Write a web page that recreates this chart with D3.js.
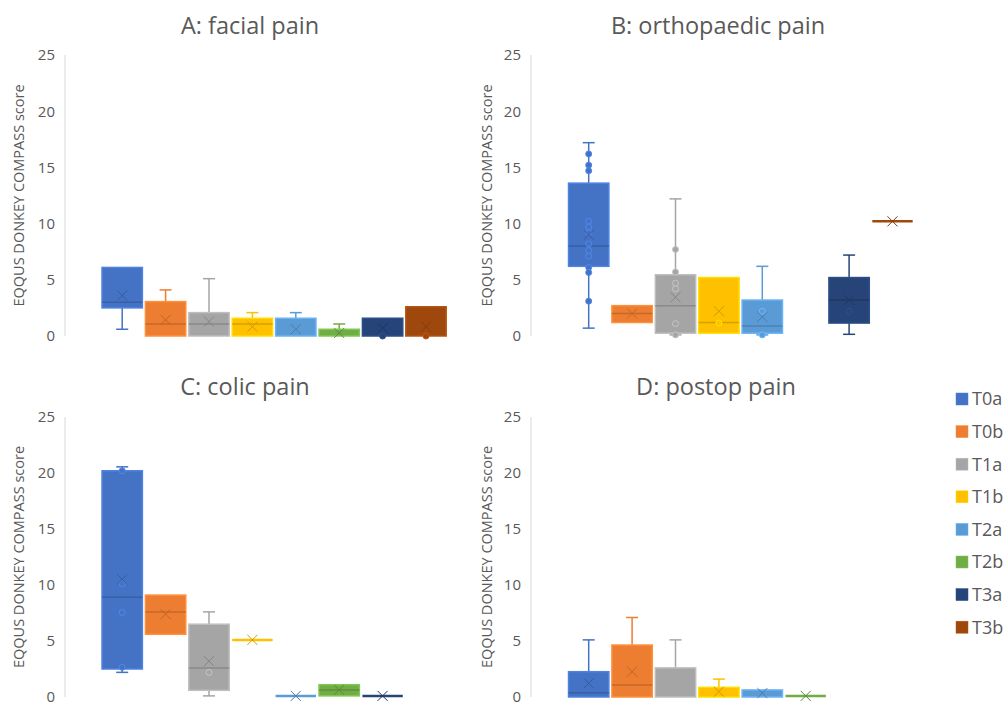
<!DOCTYPE html>
<html>
<head>
<meta charset="utf-8">
<script src="https://cdn.jsdelivr.net/npm/d3@7"></script>
<style>
  body { margin: 0; background: #fff; }
  text { font-family: "Open Sans", sans-serif; fill: #595959; }
</style>
</head>
<body>
<div id="chart"></div>
<script>
const groups = ["T0a", "T0b", "T1a", "T1b", "T2a", "T2b", "T3a", "T3b"];
const colors = ["#4472C4", "#ED7D31", "#A5A5A5", "#FFC000", "#5B9BD5", "#70AD47", "#264478", "#9E480E"];
const yTicks = [0, 5, 10, 15, 20, 25];
const yLabel = "EQQUS DONKEY COMPASS score";

// per group: [min, q1, median, q3, max, mean], null = no data
const facialBox = [
  [0.6, 2.5, 3.0, 6.1, 6.1, 3.6],
  [0, 0, 1.07, 3.06, 4.1, 1.43],
  [0, 0, 1.07, 2.08, 5.1, 1.28],
  [0, 0, 1.07, 1.58, 2.08, 0.83],
  [0, 0, 0, 1.58, 2.08, 0.6],
  [0, 0, 0, 0.6, 1.07, 0.27],
  [0, 0, 0, 1.58, 1.58, 0.7],
  [0, 0, 0, 2.6, 2.6, 0.83]
];
const facialPoints = [[], [], [], [], [], [], [0], [0]];

const orthoBox = [
  [0.7, 6.2, 8.0, 13.6, 17.2, 9.0],
  [1.2, 1.2, 2.0, 2.7, 2.7, 2.0],
  [0.1, 0.25, 2.7, 5.45, 12.2, 3.45],
  [0.25, 0.25, 1.2, 5.2, 5.2, 2.2],
  [0.1, 0.25, 0.9, 3.2, 6.2, 1.7],
  null,
  [0.15, 1.15, 3.2, 5.2, 7.2, 3.2],
  [10.2, 10.2, 10.2, 10.2, 10.2, 10.2]
];
const orthoPoints = [
  [16.2, 15.2, 14.7, 10.2, 9.7, 9.2, 8.2, 7.6, 7.1, 6.1, 5.65, 3.1],
  [],
  [7.7, 5.7, 4.7, 4.2, 1.1, 0.1],
  [1.15],
  [2.2, 0.1],
  [],
  [2.2],
  []
];

const colicBox = [
  [2.2, 2.5, 8.9, 20.2, 20.55, 10.5],
  [5.6, 5.6, 7.6, 9.1, 9.1, 7.4],
  [0.1, 0.6, 2.6, 6.5, 7.6, 3.2],
  [5.1, 5.1, 5.1, 5.1, 5.1, 5.1],
  [0.1, 0.1, 0.1, 0.1, 0.1, 0.1],
  [0.1, 0.1, 0.63, 1.1, 1.1, 0.63],
  [0.1, 0.1, 0.1, 0.1, 0.1, 0.1],
  null
];
const colicPoints = [[20.2, 10.1, 7.55, 2.65], [], [2.2], [], [], [], [], []];

const postopBox = [
  [0, 0, 0.38, 2.26, 5.1, 1.22],
  [0, 0, 1.07, 4.64, 7.1, 2.26],
  [0, 0, 0, 2.6, 5.1, null],
  [0, 0, 0, 0.86, 1.6, 0.48],
  [0, 0, 0, 0.63, 0.63, 0.35],
  [0.1, 0.1, 0.1, 0.1, 0.1, 0.1],
  null,
  null
];
const postopPoints = [[], [], [], [], [], [], [], []];

const panels = [
  {title: "A: facial pain", box: facialBox, pts: facialPoints, axisX: 65, x0: 100.5, yBottom: 336, yTop: 55, titleX: 250, titleY: 34, labelX: 19},
  {title: "B: orthopaedic pain", box: orthoBox, pts: orthoPoints, axisX: 531, x0: 567, yBottom: 336, yTop: 55, titleX: 718, titleY: 34, labelX: 487},
  {title: "C: colic pain", box: colicBox, pts: colicPoints, axisX: 65, x0: 100.5, yBottom: 697, yTop: 417, titleX: 245, titleY: 395, labelX: 19},
  {title: "D: postop pain", box: postopBox, pts: postopPoints, axisX: 531, x0: 567, yBottom: 697, yTop: 417, titleX: 716, titleY: 395, labelX: 487}
];

const svg = d3.select("#chart").append("svg")
  .attr("width", 1006)
  .attr("height", 705);

const cScale = d3.scaleOrdinal().domain(groups).range(colors);

panels.forEach(p => {
  const g = svg.append("g");

  const y = d3.scaleLinear().domain([0, 25]).range([p.yBottom, p.yTop]);
  const x = d3.scaleBand()
    .domain(groups)
    .range([p.x0, p.x0 + groups.length * 43.4])
    .paddingInner(0.07)
    .paddingOuter(0.035);
  const bw = x.bandwidth();

  // title
  g.append("text")
    .attr("x", p.titleX)
    .attr("y", p.titleY)
    .attr("text-anchor", "middle")
    .attr("font-size", 23.5)
    .text(p.title);

  // y axis
  const yAxis = d3.axisLeft(y).tickValues(yTicks).tickSize(0).tickPadding(10);
  const ag = g.append("g")
    .attr("transform", `translate(${p.axisX},0)`)
    .call(yAxis);
  ag.select(".domain").remove();
  ag.selectAll("text")
    .attr("font-size", 15)
    .style("font-family", "'Open Sans', sans-serif")
    .attr("fill", "#595959");

  g.append("line")
    .attr("x1", p.axisX).attr("x2", p.axisX)
    .attr("y1", y(0)).attr("y2", y(25))
    .attr("stroke", "#d9d9d9");

  g.append("text")
    .attr("transform", `translate(${p.labelX},${(y(0) + y(25)) / 2}) rotate(-90)`)
    .attr("text-anchor", "middle")
    .attr("dy", "0.35em")
    .attr("font-size", 14.5)
    .text(yLabel);

  const data = groups.map((k, i) => ({key: k, s: p.box[i], pts: p.pts[i]})).filter(d => d.s);

  const item = g.selectAll(".grp")
    .data(data)
    .join("g")
    .attr("class", "grp");

  // whiskers
  item.each(function(d) {
    const sel = d3.select(this);
    const c = cScale(d.key);
    const cx = x(d.key) + bw / 2;
    const [mn, q1, md, q3, mx] = d.s;
    if (mx > q3) {
      sel.append("line").attr("x1", cx).attr("x2", cx).attr("y1", y(q3)).attr("y2", y(mx))
        .attr("stroke", c).attr("stroke-width", 1.5);
      sel.append("line").attr("x1", cx - 6).attr("x2", cx + 6).attr("y1", y(mx)).attr("y2", y(mx))
        .attr("stroke", c).attr("stroke-width", 1.5);
    }
    if (mn < q1) {
      sel.append("line").attr("x1", cx).attr("x2", cx).attr("y1", y(q1)).attr("y2", y(mn))
        .attr("stroke", c).attr("stroke-width", 1.5);
      sel.append("line").attr("x1", cx - 6).attr("x2", cx + 6).attr("y1", y(mn)).attr("y2", y(mn))
        .attr("stroke", c).attr("stroke-width", 1.5);
    }
  });

  // boxes
  item.filter(d => d.s[3] > d.s[1])
    .append("rect")
    .attr("x", d => x(d.key))
    .attr("width", bw)
    .attr("y", d => y(d.s[3]))
    .attr("height", d => y(d.s[1]) - y(d.s[3]))
    .attr("fill", d => cScale(d.key))
    .attr("stroke", d => d3.color(cScale(d.key)).brighter(0.4))
    .attr("stroke-width", 1.5);

  // single-value groups collapse to a flat line
  item.filter(d => d.s[3] === d.s[1])
    .append("line")
    .attr("x1", d => x(d.key))
    .attr("x2", d => x(d.key) + bw)
    .attr("y1", d => y(d.s[1]))
    .attr("y2", d => y(d.s[1]))
    .attr("stroke", d => cScale(d.key))
    .attr("stroke-width", 2.5);

  // medians
  item.filter(d => d.s[3] > d.s[1] && d.s[2] > d.s[1])
    .append("line")
    .attr("x1", d => x(d.key))
    .attr("x2", d => x(d.key) + bw)
    .attr("y1", d => y(d.s[2]))
    .attr("y2", d => y(d.s[2]))
    .attr("stroke", d => d3.color(cScale(d.key)).darker(0.5))
    .attr("stroke-width", 1.5);

  // inner points
  item.selectAll("circle")
    .data(d => d.pts.map(v => ({key: d.key, v: v})))
    .join("circle")
    .attr("cx", d => x(d.key) + bw / 2)
    .attr("cy", d => y(d.v))
    .attr("r", 3)
    .attr("fill", d => cScale(d.key))
    .attr("stroke", d => d3.color(cScale(d.key)).brighter(0.5))
    .attr("stroke-width", 1);

  // mean markers
  item.filter(d => d.s[5] !== null)
    .append("path")
    .attr("transform", d => `translate(${x(d.key) + bw / 2},${y(d.s[5])})`)
    .attr("d", "M-5,-5L5,5M-5,5L5,-5")
    .attr("stroke", d => d3.color(cScale(d.key)).darker(0.6))
    .attr("stroke-width", 1)
    .attr("fill", "none");
});

// legend
const legend = svg.append("g").selectAll("g")
  .data(groups)
  .join("g")
  .attr("transform", (d, i) => `translate(956,${399 + i * 32.6})`);

legend.append("rect")
  .attr("x", 0).attr("y", -6)
  .attr("width", 12).attr("height", 12)
  .attr("fill", d => cScale(d))
  .attr("stroke", d => d3.color(cScale(d)).brighter(0.4))
  .attr("stroke-width", 0.5);

legend.append("text")
  .attr("x", 16)
  .attr("dy", "0.36em")
  .attr("font-size", 18)
  .text(d => d);
</script>
</body>
</html>
